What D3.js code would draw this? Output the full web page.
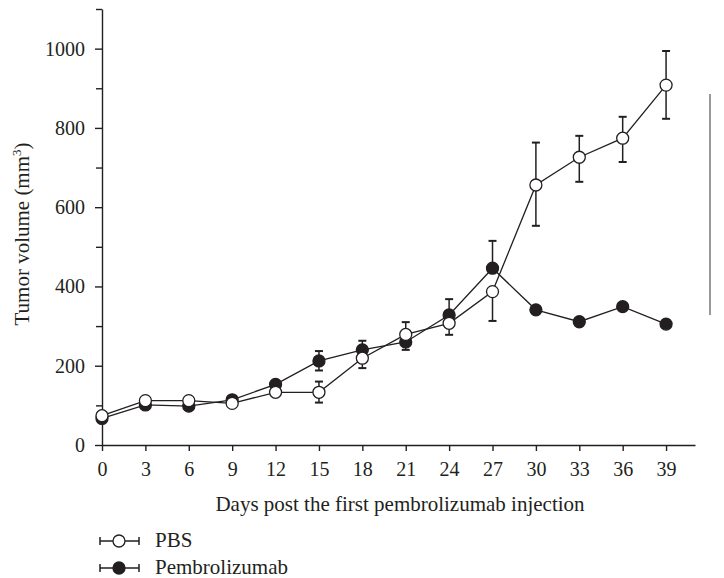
<!DOCTYPE html>
<html><head><meta charset="utf-8">
<script src="https://cdn.jsdelivr.net/npm/d3@7"></script>
<style>body{margin:0;background:#fff}svg{display:block}text{font-family:"Liberation Serif","DejaVu Serif",serif;fill:#231f20}</style>
</head><body><svg id="c" width="724" height="578"></svg>
<script>
const days = [0,3,6,9,12,15,18,21,24,27,30,33,36,39];
const pbsMean = [74,112,112,105,133,133,219,279,307,387,656,726,774,908];
const pbsErrUp = [0,0,0,0,0,27,0,31,0,0,107,54,54,86];
const pbsErrDown = [0,0,0,0,0,26,25,0,29,74,103,62,60,85];
const pemMean = [67,101,98,114,153,212,240,260,328,446,341,311,349,305];
const pemErrUp = [0,0,0,0,0,25,23,0,40,69,0,0,0,0];
const pemErrDown = [0,0,0,0,0,24,0,20,0,0,0,0,0,0];
const yTicks = [0,200,400,600,800,1000];
const yMinor = [100,300,500,700,900,1100];
const seriesNames = ["PBS","Pembrolizumab"];

const svg = d3.select("#c");
const x = d3.scaleLinear().domain([0,41]).range([102,695]);
const y = d3.scaleLinear().domain([0,1100]).range([445,9]);
const ink = "#231f20";

// axes
svg.append("g").attr("transform","translate(0,445)")
  .call(d3.axisBottom(x).tickValues(days).tickSize(6).tickPadding(11).tickSizeOuter(0));
svg.append("g").attr("transform","translate(102,0)")
  .call(d3.axisLeft(y).tickValues(yTicks).tickFormat(d3.format("d")).tickSize(7).tickPadding(10).tickSizeOuter(0));
svg.append("g").attr("transform","translate(102,0)")
  .call(d3.axisLeft(y).tickValues(yMinor).tickSize(6).tickFormat("").tickSizeOuter(0))
  .select(".domain").remove();
svg.selectAll(".domain,.tick line").attr("stroke",ink).attr("stroke-width",1.4);
svg.selectAll(".tick text").attr("font-size",20).attr("font-family","Liberation Serif").attr("fill",ink);

// axis labels
svg.append("text").attr("x",400).attr("y",511).attr("text-anchor","middle").attr("font-size",21)
  .text("Days post the first pembrolizumab injection");
const yl = svg.append("text").attr("transform","translate(29,234) rotate(-90)").attr("text-anchor","middle").attr("font-size",21);
yl.append("tspan").text("Tumor volume (mm");
yl.append("tspan").attr("font-size",13).attr("dy",-8).text("3");
yl.append("tspan").attr("dy",8).text(")");

// stray vertical line
svg.append("line").attr("x1",710).attr("x2",710).attr("y1",94).attr("y2",315).attr("stroke","#777").attr("stroke-width",1.5);

function drawSeries(mean, up, down, fill){
  const g = svg.append("g");
  const line = d3.line().x((d,i)=>x(days[i])).y(d=>y(d));
  g.append("path").datum(mean).attr("d",line).attr("fill","none").attr("stroke",ink).attr("stroke-width",1.3);
  days.forEach((d,i)=>{
    const cx = x(d);
    [[up[i],1],[down[i],-1]].forEach(([e,s])=>{
      if(!e) return;
      const ye = y(mean[i]+s*e);
      g.append("line").attr("x1",cx).attr("x2",cx).attr("y1",y(mean[i])).attr("y2",ye).attr("stroke",ink).attr("stroke-width",1.5);
      g.append("line").attr("x1",cx-4).attr("x2",cx+4).attr("y1",ye).attr("y2",ye).attr("stroke",ink).attr("stroke-width",2);
    });
  });
  g.selectAll("circle").data(mean).join("circle")
    .attr("cx",(d,i)=>x(days[i])).attr("cy",d=>y(d)).attr("r",6)
    .attr("fill",fill).attr("stroke",ink).attr("stroke-width",1.3);
}
drawSeries(pemMean, pemErrUp, pemErrDown, ink);
drawSeries(pbsMean, pbsErrUp, pbsErrDown, "#fff");

// legend
const fills = ["#fff", ink];
seriesNames.forEach((n,i)=>{
  const ly = 541 + i*27;
  const g = svg.append("g");
  g.append("line").attr("x1",100).attr("x2",139).attr("y1",ly).attr("y2",ly).attr("stroke",ink).attr("stroke-width",1.3);
  g.append("line").attr("x1",100).attr("x2",100).attr("y1",ly-4).attr("y2",ly+4).attr("stroke",ink).attr("stroke-width",1.5);
  g.append("line").attr("x1",139).attr("x2",139).attr("y1",ly-4).attr("y2",ly+4).attr("stroke",ink).attr("stroke-width",1.5);
  g.append("circle").attr("cx",119).attr("cy",ly).attr("r",6).attr("fill",fills[i]).attr("stroke",ink).attr("stroke-width",1.3);
  g.append("text").attr("x",155).attr("y",ly+6).attr("font-size",21).text(n);
});
</script></body></html>
